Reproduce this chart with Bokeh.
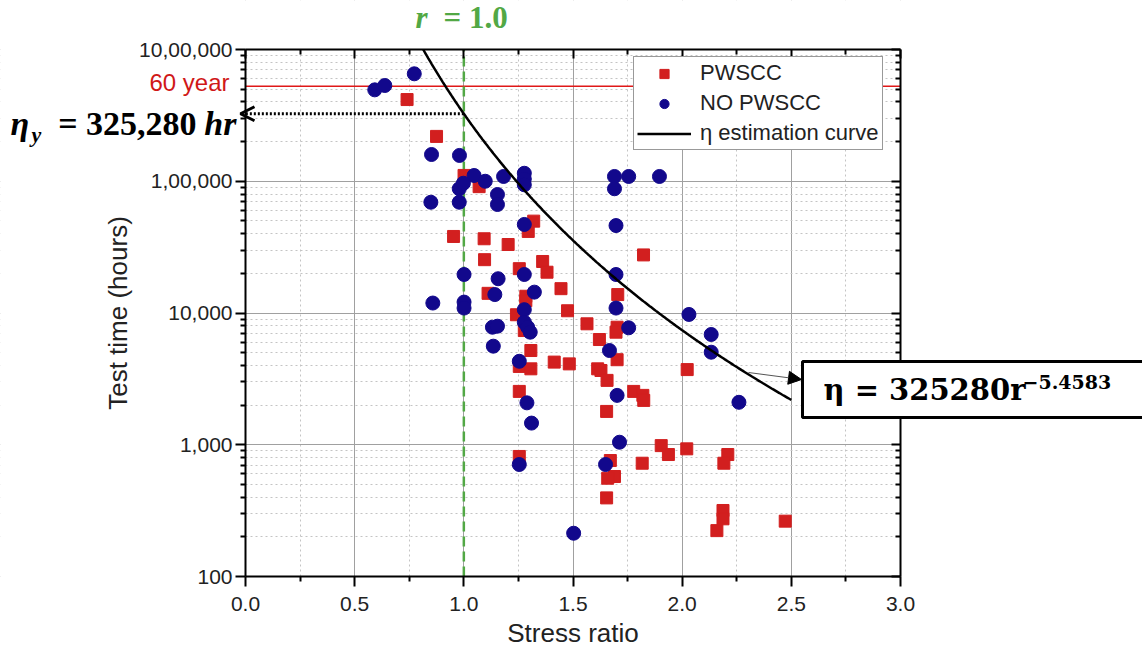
import numpy as np
from bokeh.plotting import figure
from bokeh.models import (FixedTicker, LinearAxis, LogAxis, Label, Arrow, BoxAnnotation,
                          OpenHead, NormalHead, Range1d, Legend, LegendItem,
                          PrintfTickFormatter)
from bokeh.embed import file_html
from bokeh.resources import INLINE

# ---------------- data ----------------
pwscc_r = [0.740, 0.875, 1.001, 1.070, 1.320, 1.295, 0.953, 1.093, 1.203, 1.095,
           1.361, 1.254, 1.381, 1.823, 1.111, 1.284, 1.284, 1.445, 1.475, 1.705,
           1.241, 1.277, 1.564, 1.702, 1.697, 1.621, 1.307, 1.702, 1.254, 1.307,
           1.414, 1.483, 1.613, 1.628, 1.656, 2.023, 1.778, 1.820, 1.824, 1.254,
           1.654, 1.904, 1.937, 2.021, 1.671, 2.209, 2.191, 1.817, 1.690, 1.659,
           1.254, 1.654, 2.187, 2.187, 2.159, 2.472]
pwscc_t = [417000, 219000, 110700, 91000, 49800, 41600, 38100, 36600, 33100, 25400,
           24600, 21700, 20400, 27600, 14100, 13400, 12400, 15300, 10400, 13800,
           9700, 7360, 8280, 7800, 7150, 6290, 5190, 4420, 3930, 3770,
           4240, 4110, 3770, 3660, 3080, 3720, 2540, 2370, 2170, 2540,
           1790, 985, 843, 931, 759, 843, 724, 724, 574, 557,
           815, 395, 317, 274, 223, 263]

nopwscc_r = [0.592, 0.638, 0.773, 0.852, 0.980, 1.047, 1.098, 1.182, 1.277, 1.277,
             1.277, 0.979, 0.998, 0.849, 0.979, 1.154, 1.154, 1.277, 1.001, 1.157,
             1.277, 1.323, 1.142, 0.858, 1.001, 1.001, 1.277, 1.131, 1.154, 1.277,
             1.292, 1.304, 1.135, 1.254, 1.690, 1.755, 1.896, 1.690, 1.697, 1.697,
             1.697, 2.031, 1.755, 2.133, 1.667, 2.133, 1.702, 2.260, 1.713, 1.649,
             1.503, 1.289, 1.310, 1.254]
nopwscc_t = [494000, 533000, 654000, 159600, 157000, 110600, 100000, 108700, 115000, 104000,
             94000, 87700, 96600, 69300, 69300, 79300, 66600, 47000, 19600, 18200,
             19600, 14400, 13800, 11900, 12100, 10900, 10600, 7800, 7940, 8510,
             7800, 7150, 5600, 4300, 108700, 108700, 108700, 87700, 46100, 19600,
             10900, 9750, 7720, 6870, 5190, 5040, 2370, 2100, 1045, 708,
             213, 2080, 1460, 708]

# estimation curve eta = 325280 * r^-5.4583 (as stated on the chart)
eta_coef = 325280
eta_exp = -5.4583
r_curve_end = 2.5

sixty_year_hours = 525600
eta_y_hours = 325280
r_ref = 1.0

x_lim = (0.0, 3.0)
y_lim = (100, 1000000)
x_ticks = [0.0, 0.5, 1.0, 1.5, 2.0, 2.5, 3.0]
x_minor = [0.25, 0.75, 1.25, 1.75, 2.25, 2.75]
y_ticks = [100, 1000, 10000, 100000, 1000000]
y_tick_labels = ["100", "1,000", "10,000", "1,00,000", "10,00,000"]
y_minor = [m * d for d in [100, 1000, 10000, 100000] for m in range(2, 10)]

r_curve_start = (eta_coef / y_lim[1]) ** (1.0 / -eta_exp)
curve_r = np.linspace(r_curve_start, r_curve_end, 300)
curve_t = eta_coef * curve_r ** eta_exp

RED = "#d21f1f"
NAVY = "#12088c"
GREEN = "#52a845"
SANS = "Liberation Sans"
SERIF = "Liberation Serif"
MATH = "DejaVu Serif"

# ---------------- layout (canvas = frame; axes drawn at fixed locations) ----------------
W, H = 1142, 661
PX_LEFT, PX_RIGHT = 245, 900      # pixel of x = 0 and x = 3
PX_TOP, PX_BOTTOM = 49, 576       # pixel of y = 1e6 and y = 100
ppu = (PX_RIGHT - PX_LEFT) / (x_lim[1] - x_lim[0])
ppd = (PX_BOTTOM - PX_TOP) / (np.log10(y_lim[1]) - np.log10(y_lim[0]))
x_range = Range1d(x_lim[0] - PX_LEFT / ppu, x_lim[1] + (W - PX_RIGHT) / ppu)
y_range = Range1d(10 ** (np.log10(y_lim[0]) - (H - PX_BOTTOM) / ppd),
                  10 ** (np.log10(y_lim[1]) + PX_TOP / ppd))


def xd(px):
    return x_lim[0] + (px - PX_LEFT) / ppu


def yd(py):
    return 10 ** (np.log10(y_lim[1]) - (py - PX_TOP) / ppd)


p = figure(width=W, height=H, x_range=x_range, y_range=y_range,
           y_axis_type="log", output_backend="svg", toolbar_location=None,
           min_border=0, min_border_left=0, min_border_right=0,
           min_border_top=0, min_border_bottom=0)
p.title.visible = False
p.outline_line_color = None

xt = FixedTicker(ticks=x_ticks, minor_ticks=x_minor)
yt = FixedTicker(ticks=y_ticks, minor_ticks=y_minor)

xa = p.xaxis[0]
xa.ticker = xt
xa.formatter = PrintfTickFormatter(format="%.1f")
xa.axis_label = "Stress ratio"
xa.fixed_location = y_lim[0]
xa.bounds = x_lim
ya = p.yaxis[0]
ya.ticker = yt
ya.major_label_overrides = dict(zip(y_ticks, y_tick_labels))
ya.axis_label = "Test time (hours)"
ya.fixed_location = x_lim[0]
ya.bounds = y_lim

for ax in (xa, ya):
    ax.axis_line_width = 2
    ax.axis_line_color = "black"
    ax.major_tick_in = 0
    ax.major_tick_out = 10
    ax.minor_tick_in = 0
    ax.minor_tick_out = 5
    ax.major_tick_line_width = 2
    ax.minor_tick_line_width = 2
    ax.major_label_text_font = SANS
    ax.major_label_text_font_size = "21px"
    ax.major_label_text_color = "#222222"
    ax.axis_label_text_font = SANS
    ax.axis_label_text_font_size = "26px"
    ax.axis_label_text_font_style = "normal"
    ax.axis_label_text_color = "#222222"
xa.major_label_standoff = 10
xa.axis_label_standoff = 4
ya.major_label_standoff = 3
ya.axis_label_standoff = 3

top = LinearAxis(ticker=FixedTicker(ticks=x_ticks, minor_ticks=x_minor),
                 fixed_location=y_lim[1], bounds=x_lim)
right = LogAxis(ticker=FixedTicker(ticks=y_ticks, minor_ticks=y_minor),
                fixed_location=x_lim[1], bounds=y_lim)
for ax in (top, right):
    ax.axis_line_width = 2
    ax.major_tick_in = 9
    ax.major_tick_out = 0
    ax.minor_tick_in = 5
    ax.minor_tick_out = 0
    ax.major_tick_line_width = 2
    ax.minor_tick_line_width = 2
    ax.major_label_text_font_size = "10px"
    ax.major_label_text_color = None
p.add_layout(top, "above")
p.add_layout(right, "right")

p.xgrid.ticker = xt
p.ygrid.ticker = yt
for g in (p.xgrid[0], p.ygrid[0]):
    g.grid_line_color = "#a0a0a0"
    g.grid_line_width = 1
    g.minor_grid_line_color = "#c4c4c4"
    g.minor_grid_line_dash = "2 3"
    g.minor_grid_line_width = 1

# white masks so that grid lines stay inside the plotting box
for kw in (dict(right=x_lim[0]), dict(left=x_lim[1]),
           dict(bottom=y_lim[1]), dict(top=y_lim[0])):
    p.add_layout(BoxAnnotation(fill_color="white", fill_alpha=1, line_color=None,
                               level="underlay", **kw))

# reference lines (60 years, r = 1.0)
p.line(list(x_lim), [sixty_year_hours, sixty_year_hours], line_color="#e01818", line_width=1.5)
p.line([r_ref, r_ref], list(y_lim), line_color=GREEN, line_width=2.5, line_dash="10 5")

r1 = p.scatter(pwscc_r, pwscc_t, marker="square", size=12, color=RED)
r2 = p.scatter(nopwscc_r, nopwscc_t, marker="circle", size=14, color=NAVY)
r3 = p.line(curve_r, curve_t, line_width=2.5, color="black")

legend = Legend(items=[LegendItem(label="PWSCC", renderers=[r1]),
                       LegendItem(label="NO PWSCC", renderers=[r2]),
                       LegendItem(label="η estimation curve", renderers=[r3])],
                location=(633, H - 150))
legend.margin = 0
legend.padding = 3
legend.spacing = 4
legend.glyph_width = 54
legend.glyph_height = 23
legend.label_height = 23
legend.label_standoff = 9
legend.label_text_font = SANS
legend.label_text_font_size = "22px"
legend.label_text_color = "#222222"
legend.border_line_color = "#333333"
legend.border_line_width = 1.5
legend.background_fill_alpha = 1
p.add_layout(legend)

# eta_y dotted arrow to the axis
p.add_layout(Arrow(x_start=r_ref, y_start=eta_y_hours, x_end=xd(240), y_end=eta_y_hours,
                   line_color="black", line_width=3, line_dash="2 2",
                   end=OpenHead(size=14, line_width=3, line_color="black")))

# arrow from curve to formula box
p.add_layout(Arrow(x_start=xd(748), y_start=yd(372), x_end=xd(801), y_end=yd(379),
                   line_color="#555555", line_width=1,
                   end=NormalHead(size=13, fill_color="black", line_color="black")))

# texts
p.add_layout(Label(x=xd(229), y=yd(82), text="60 year", text_align="right",
                   text_baseline="middle", text_font=SANS,
                   text_font_size="24px", text_color="#d01818"))

p.add_layout(Label(x=xd(196), y=yd(123), text="= 325,280", text_align="right",
                   text_baseline="middle", text_font=SERIF,
                   text_font_size="34px", text_font_style="bold", text_color="black"))
p.add_layout(Label(x=xd(236), y=yd(123), text="hr", text_align="right",
                   text_baseline="middle", text_font=SERIF,
                   text_font_size="34px", text_font_style="bold italic", text_color="black"))
p.add_layout(Label(x=xd(10), y=yd(123), text="η", text_align="left",
                   text_baseline="middle", text_font=SERIF,
                   text_font_size="34px", text_font_style="bold italic", text_color="black"))
p.add_layout(Label(x=xd(31), y=yd(134), text="y", text_align="left",
                   text_baseline="middle", text_font=SERIF,
                   text_font_size="22px", text_font_style="bold italic", text_color="black"))

p.add_layout(Label(x=xd(415), y=yd(17), text="r", text_align="left",
                   text_baseline="middle", text_font=SERIF,
                   text_font_size="31px", text_font_style="bold italic", text_color=GREEN))
p.add_layout(Label(x=xd(443), y=yd(17), text="= 1.0", text_align="left",
                   text_baseline="middle", text_font=SERIF,
                   text_font_size="31px", text_font_style="bold", text_color=GREEN))

# formula box (x is the box's left edge)
p.add_layout(Label(x=xd(802), y=yd(389), text="η = 325280r" + "\u00a0" * 10,
                   text_align="left", text_baseline="middle", text_font=MATH,
                   text_font_size="29px", text_font_style="bold", text_color="black",
                   background_fill_color="white", border_line_color="black",
                   border_line_width=3, padding=(21, 11)))
p.add_layout(Label(x=xd(1022), y=yd(381), text="−5.4583", text_align="left",
                   text_baseline="middle", text_font=MATH,
                   text_font_size="19px", text_font_style="bold", text_color="black"))

open("out.html", "w").write(file_html(p, INLINE))
